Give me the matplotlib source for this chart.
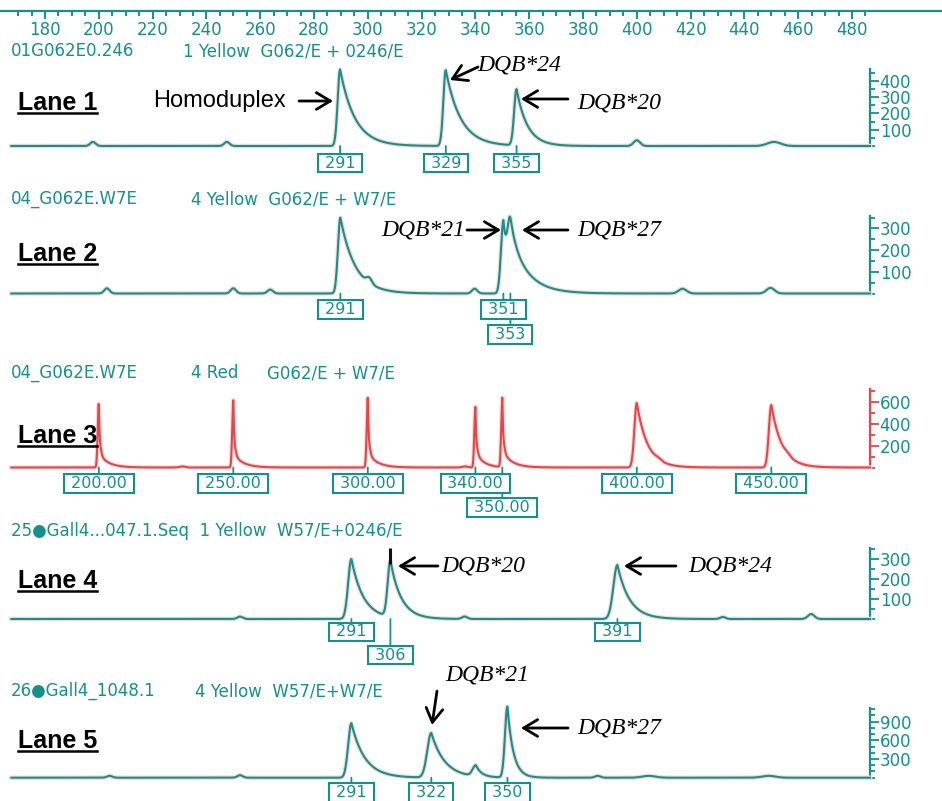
import numpy as np
import matplotlib
matplotlib.use("Agg")
import matplotlib.pyplot as plt
from matplotlib import patheffects as pe
from matplotlib.ticker import FixedLocator, NullFormatter

W, H, DPI = 942, 801, 100
TEAL = "#15908c"
RED = "#e2474c"
HALO = "#f8d8d8"

# ---------------- data ----------------
scale_major_ticks = [180, 200, 220, 240, 260, 280, 300, 320, 340, 360, 380, 400, 420, 440, 460, 480]
scale_minor_ticks = list(range(170, 486, 5))

lane_titles = ["Lane 1", "Lane 2", "Lane 3", "Lane 4", "Lane 5"]

lane1_header = [("01G062E0.246", 11), ("1 Yellow  G062/E + 0246/E", 183)]
lane1_peak_pos = [289.7, 329.0, 355.3]
lane1_peak_height = [470, 465, 345]
lane1_peak_tail = [5.5, 5.5, 4.0]
lane1_peak_rise = [0.9, 0.9, 0.9]
lane1_bump_pos = [197.8, 247.6, 400.0, 451.0]
lane1_bump_height = [25, 25, 35, 25]
lane1_bump_width = [1.0, 1.0, 1.2, 2.5]
lane1_box_labels = ["291", "329", "355"]
lane1_box_pos = [289.7, 329.0, 355.3]
lane1_box_row = [0, 0, 0]
lane1_yticks = [100, 200, 300, 400]

lane2_header = [("04_G062E.W7E", 11), ("4 Yellow  G062/E + W7/E", 191)]
lane2_peak_pos = [289.8, 350.4, 353.0]
lane2_peak_height = [350, 330, 260]
lane2_peak_tail = [5.5, 2.0, 6.5]
lane2_peak_rise = [0.9, 0.9, 1.0]
lane2_bump_pos = [203.0, 250.0, 263.7, 300.5, 339.7, 417.0, 449.7]
lane2_bump_height = [24, 24, 18, 25, 22, 22, 26]
lane2_bump_width = [1.0, 1.0, 1.0, 1.0, 1.0, 1.5, 1.5]
lane2_box_labels = ["291", "351", "353"]
lane2_box_pos = [289.8, 350.4, 353.0]
lane2_box_row = [0, 0, 1]
lane2_yticks = [100, 200, 300]

lane3_header = [("04_G062E.W7E", 11), ("4 Red", 191), ("G062/E + W7/E", 267)]
lane3_peak_pos = [200.0, 201.0, 250.0, 251.0, 300.0, 301.0, 340.0, 341.0, 350.0, 351.0, 400.0, 450.0]
lane3_peak_height = [560, 95, 590, 95, 610, 100, 530, 100, 610, 110, 586, 568]
lane3_peak_tail = [0.4, 3.5, 0.4, 3.5, 0.4, 3.5, 0.4, 3.0, 0.4, 3.5, 4.0, 4.0]
lane3_peak_rise = [0.4, 0.6, 0.4, 0.6, 0.4, 0.6, 0.4, 0.6, 0.4, 0.6, 0.9, 0.9]
lane3_bump_pos = [231.0, 336.0, 408.0, 456.0]
lane3_bump_height = [10, 10, 15, 15]
lane3_bump_width = [1.0, 1.0, 1.0, 1.0]
lane3_box_labels = ["200.00", "250.00", "300.00", "340.00", "350.00", "400.00", "450.00"]
lane3_box_pos = [200.0, 250.0, 300.0, 340.0, 350.0, 400.0, 450.0]
lane3_box_row = [0, 0, 0, 0, 1, 0, 0]
lane3_yticks = [200, 400, 600]

lane4_header = [("25\u25cfGall4...047.1.Seq  1 Yellow  W57/E+0246/E", 11)]
lane4_peak_pos = [293.9, 308.4, 392.8]
lane4_peak_height = [300, 280, 270]
lane4_peak_tail = [4.5, 4.0, 4.5]
lane4_peak_rise = [1.2, 1.0, 1.5]
lane4_spike_top = [355]
lane4_spike_pos = [308.4]
lane4_bump_pos = [252.5, 336.0, 432.0, 464.8]
lane4_bump_height = [12, 12, 10, 25]
lane4_bump_width = [1.0, 1.0, 1.0, 1.2]
lane4_box_labels = ["291", "306", "391"]
lane4_box_pos = [293.9, 308.4, 392.8]
lane4_box_row = [0, 1, 0]
lane4_yticks = [100, 200, 300]

lane5_header = [("26\u25cfGall4_1048.1", 11), ("4 Yellow  W57/E+W7/E", 195)]
lane5_peak_pos = [293.9, 323.6, 340.2, 351.9]
lane5_peak_height = [875, 717, 175, 1140]
lane5_peak_tail = [5.0, 5.0, 2.0, 2.2]
lane5_peak_rise = [1.2, 1.5, 1.2, 0.9]
lane5_bump_pos = [204.0, 252.5, 385.4, 404.4, 449.0]
lane5_bump_height = [30, 40, 30, 30, 30]
lane5_bump_width = [1.0, 1.0, 1.0, 2.5, 2.5]
lane5_box_labels = ["291", "322", "350"]
lane5_box_pos = [293.9, 323.6, 351.9]
lane5_box_row = [0, 0, 0]
lane5_yticks = [300, 600, 900]

# ---------------- layout (pixels, measured from top) ----------------
X_LEFT_BP, PX_PER_BP = 163.27, 2.69
XLIM = (X_LEFT_BP, X_LEFT_BP + W / PX_PER_BP)
AXIS_BP = 486.7
TRACE_START_BP = 167.5

lanes = [
    dict(title=lane_titles[0], header=lane1_header, header_y=51, title_base=109.5,
         pos=lane1_peak_pos, h=lane1_peak_height, tail=lane1_peak_tail, rise=lane1_peak_rise,
         bpos=lane1_bump_pos, bh=lane1_bump_height, bw=lane1_bump_width,
         boxes=lane1_box_labels, boxpos=lane1_box_pos, boxrow=lane1_box_row,
         yticks=lane1_yticks, minor=50, top=470, base=146, ppx=0.163,
         rows=(17, 41), color=TEAL, axcolor=TEAL),
    dict(title=lane_titles[1], header=lane2_header, header_y=199, title_base=261,
         pos=lane2_peak_pos, h=lane2_peak_height, tail=lane2_peak_tail, rise=lane2_peak_rise,
         bpos=lane2_bump_pos, bh=lane2_bump_height, bw=lane2_bump_width,
         boxes=lane2_box_labels, boxpos=lane2_box_pos, boxrow=lane2_box_row,
         yticks=lane2_yticks, minor=50, top=355, base=293.5, ppx=0.217,
         rows=(16, 41), color=TEAL, axcolor=TEAL),
    dict(title=lane_titles[2], header=lane3_header, header_y=373, title_base=443,
         pos=lane3_peak_pos, h=lane3_peak_height, tail=lane3_peak_tail, rise=lane3_peak_rise,
         bpos=lane3_bump_pos, bh=lane3_bump_height, bw=lane3_bump_width,
         boxes=lane3_box_labels, boxpos=lane3_box_pos, boxrow=lane3_box_row,
         yticks=lane3_yticks, minor=100, top=710, base=467.5, ppx=0.110,
         rows=(16, 40), color=RED, axcolor=RED),
    dict(title=lane_titles[3], header=lane4_header, header_y=531, title_base=587.5,
         pos=lane4_peak_pos, h=lane4_peak_height, tail=lane4_peak_tail, rise=lane4_peak_rise,
         bpos=lane4_bump_pos, bh=lane4_bump_height, bw=lane4_bump_width,
         boxes=lane4_box_labels, boxpos=lane4_box_pos, boxrow=lane4_box_row,
         yticks=lane4_yticks, minor=50, top=355, base=619, ppx=0.20,
         rows=(13, 36), color=TEAL, axcolor=TEAL),
    dict(title=lane_titles[4], header=lane5_header, header_y=691, title_base=747.5,
         pos=lane5_peak_pos, h=lane5_peak_height, tail=lane5_peak_tail, rise=lane5_peak_rise,
         bpos=lane5_bump_pos, bh=lane5_bump_height, bw=lane5_bump_width,
         boxes=lane5_box_labels, boxpos=lane5_box_pos, boxrow=lane5_box_row,
         yticks=lane5_yticks, minor=100, top=1120, base=777.7, ppx=0.0623,
         rows=(15, 40), color=TEAL, axcolor=TEAL),
]

# annotations: (text, x, y, ha, family, style, arrow_tail, arrow_tip)  all in px from top-left
SERIF = "Liberation Serif"
SANS = "Liberation Sans"
notes = [
    ("Homoduplex", 153, 101, "left", SANS, "normal", (299, 101), (333, 101)),
    ("DQB*24", 477, 65, "left", SERIF, "italic", (478, 67), (450, 80)),
    ("DQB*20", 577, 103, "left", SERIF, "italic", (568, 99), (521, 99)),
    ("DQB*21", 465, 230, "right", SERIF, "italic", (467, 230), (501, 230)),
    ("DQB*27", 577, 230, "left", SERIF, "italic", (568, 230), (522, 230)),
    ("DQB*20", 441, 566, "left", SERIF, "italic", (438, 566), (398, 566)),
    ("DQB*24", 688, 566, "left", SERIF, "italic", (676, 566), (624, 566)),
    ("DQB*21", 487, 675, "center", SERIF, "italic", (437, 691), (432, 725)),
    ("DQB*27", 577, 728, "left", SERIF, "italic", (568, 728), (521, 728)),
]

PT = 72.0 / DPI  # points per pixel
SMALL = 12.0     # size of the instrument's small teal text

fig = plt.figure(figsize=(W / DPI, H / DPI), dpi=DPI)
fig.patch.set_facecolor("white")


def fy(ypx):
    return 1.0 - ypx / H


halo = [pe.Stroke(linewidth=3.2, foreground=HALO), pe.Normal()]

# ---------------- top size scale ----------------
ax_s = fig.add_axes([0, fy(11), 1, 0.0005])
ax_s.set_xlim(XLIM)
ax_s.patch.set_visible(False)
for s in ["top", "left", "right"]:
    ax_s.spines[s].set_visible(False)
ax_s.spines["bottom"].set_color(TEAL)
ax_s.spines["bottom"].set_linewidth(1.6)
ax_s.set_yticks([])
ax_s.xaxis.set_major_locator(FixedLocator(scale_major_ticks))
ax_s.xaxis.set_minor_locator(FixedLocator(scale_minor_ticks))
ax_s.xaxis.set_minor_formatter(NullFormatter())
ax_s.tick_params(axis="x", which="major", length=8 * PT, width=1.4, color=TEAL,
                 labelcolor=TEAL, labelsize=SMALL, pad=1.5)
ax_s.tick_params(axis="x", which="minor", length=5 * PT, width=1.4, color=TEAL)
for lab in ax_s.get_xticklabels():
    lab.set_fontfamily("DejaVu Sans")


def trace(x, L):
    y = np.zeros_like(x)
    for p, h, t, r in zip(L["pos"], L["h"], L["tail"], L["rise"]):
        d = x - p
        y += h * np.where(d < 0, np.exp(-0.5 * (d / r) ** 2), np.exp(-np.clip(d, 0, None) / t))
    for b, h, w in zip(L["bpos"], L["bh"], L["bw"]):
        y += h * np.exp(-0.5 * ((x - b) / w) ** 2)
    return y


x = np.linspace(TRACE_START_BP, AXIS_BP, 6000)
title_texts = []
for i, L in enumerate(lanes):
    above, below = 100.0, 60.0
    ax = fig.add_axes([0, fy(L["base"] + below), 1, (above + below) / H])
    ax.set_xlim(XLIM)
    ax.set_ylim(-below / L["ppx"], above / L["ppx"])
    ax.patch.set_visible(False)
    for s in ["top", "left", "bottom"]:
        ax.spines[s].set_visible(False)
    ax.set_xticks([])
    sp = ax.spines["right"]
    sp.set_position(("data", AXIS_BP))
    sp.set_bounds(0, L["top"])
    sp.set_color(L["axcolor"])
    sp.set_linewidth(1.6)
    ax.yaxis.tick_right()
    ax.yaxis.set_major_locator(FixedLocator(L["yticks"]))
    ax.yaxis.set_minor_locator(FixedLocator(list(range(0, L["top"] + 1, L["minor"]))))
    ax.yaxis.set_minor_formatter(NullFormatter())
    ax.tick_params(axis="y", which="major", direction="out", length=9 * PT, width=1.3,
                   color=L["axcolor"], labelcolor=TEAL, labelsize=SMALL, pad=0.5)
    ax.tick_params(axis="y", which="minor", direction="out", length=4.5 * PT, width=1.3,
                   color=L["axcolor"])

    y = trace(x, L)
    ax.plot(x, y, color=L["color"], lw=1.5, solid_joinstyle="round", path_effects=halo, zorder=3)
    if i == 3:
        for p, top in zip(lane4_spike_pos, lane4_spike_top):
            ax.vlines(p, trace(np.array([p]), L)[0] * 0.95, top, color="#111111", lw=2.2, zorder=4)

    # boxed size calls (lower row drawn first so upper-row boxes sit on top of its connector)
    for lab, p, row in zip(L["boxes"], L["boxpos"], L["boxrow"]):
        ax.annotate(" %s " % lab, xy=(p, 0), xytext=(0, -L["rows"][row]), textcoords="offset pixels",
                    ha="center", va="center", fontsize=11.5, color=TEAL, family="DejaVu Sans",
                    bbox=dict(boxstyle="square,pad=0.12", fc="white", ec=TEAL, lw=1.5),
                    arrowprops=dict(arrowstyle="-", color=TEAL, lw=1.3, shrinkA=0, shrinkB=0),
                    annotation_clip=False, zorder=6 - row)

    # header line
    for txt, xpx in L["header"]:
        fig.text(xpx / W, fy(L["header_y"]), txt, ha="left", va="center", fontsize=SMALL,
                 color=TEAL, family="DejaVu Sans")

    # lane title
    t = fig.text(18 / W, fy(L["title_base"]), L["title"], ha="left", va="baseline",
                 fontsize=18, fontweight="bold", family=SANS, color="black")
    title_texts.append((t, L["title_base"]))

# annotations with open arrows
for txt, xpx, ypx, ha, fam, style, tail, tip in notes:
    fig.text(xpx / W, fy(ypx), txt, ha=ha, va="center", fontsize=17, family=fam,
             style=style, color="black")
    ax_s.annotate("", xy=(tip[0] / W, fy(tip[1])), xytext=(tail[0] / W, fy(tail[1])),
                  xycoords="figure fraction", textcoords="figure fraction",
                  arrowprops=dict(arrowstyle="->,head_length=0.5,head_width=0.3", lw=2.0,
                                  color="black", mutation_scale=20, shrinkA=0, shrinkB=0),
                  annotation_clip=False)

# underline the lane titles
fig.canvas.draw()
r = fig.canvas.get_renderer()
for t, base in title_texts:
    bb = t.get_window_extent(renderer=r)
    yy = fy(base + 3)
    fig.add_artist(plt.Line2D([bb.x0 / W, bb.x1 / W], [yy, yy], transform=fig.transFigure,
                              color="black", lw=1.8))

fig.savefig("out.png", dpi=DPI, facecolor="white")
